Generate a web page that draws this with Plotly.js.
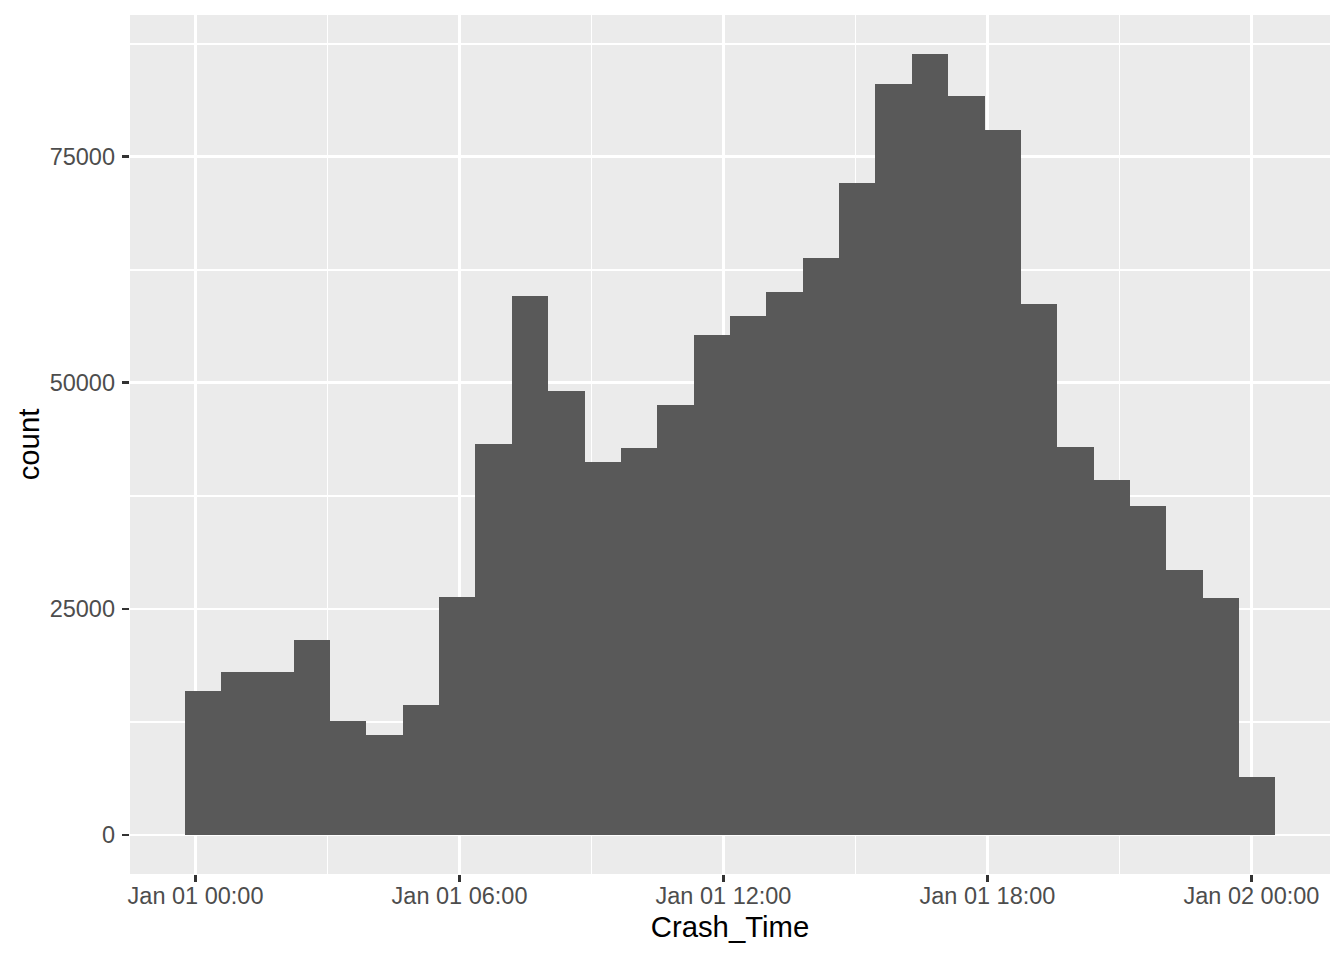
<!DOCTYPE html>
<html>
<head>
<meta charset="utf-8">
<script src="https://cdn.plot.ly/plotly-3.0.1.min.js"></script>
<style>html,body{margin:0;padding:0;background:#fff;}#chart{width:1344px;height:960px;}</style>
</head>
<body>
<div id="chart"></div>
<script>
// Histogram of Crash_Time: 30 bins (counts)
const counts = [15970, 17970, 17970, 21510, 12650, 11100, 14420, 26270, 43200, 59590,
                49070, 41210, 42760, 47520, 55270, 57370, 60030, 63790, 72090, 83050,
                86370, 81720, 77960, 58700, 42870, 39220, 36340, 29260, 26160, 6450];
const binStartHours = -0.25;      // left edge of first bin (hours after Jan 01 00:00)
const binWidthHours = 0.82652;    // bin width in hours
const xTickLabelFormat = '%b %d %H:%M';
const xTitle = 'Crash_Time';
const yTitle = 'count';

const HOUR = 3600000;
const centers = counts.map((c, i) => (binStartHours + (i + 0.5) * binWidthHours) * HOUR);
const xMin = binStartHours * HOUR;
const xMax = (binStartHours + counts.length * binWidthHours) * HOUR;
const xPad = 0.05 * (xMax - xMin);
const yMax = Math.max(...counts);

const trace = {
  type: 'bar',
  x: centers,
  y: counts,
  width: binWidthHours * HOUR,
  marker: {color: '#595959', line: {width: 0}},
  hoverinfo: 'x+y'
};

const font = 'Liberation Sans, Arial, sans-serif';
const layout = {
  width: 1344, height: 960,
  margin: {l: 130, r: 14, t: 15, b: 86, pad: 0},
  paper_bgcolor: '#ffffff',
  plot_bgcolor: '#EBEBEB',
  bargap: 0,
  showlegend: false,
  font: {family: font, color: '#000000'},
  xaxis: {
    type: 'date',
    range: [xMin - xPad, xMax + xPad],
    tick0: 0, dtick: 6 * HOUR,
    tickformat: xTickLabelFormat,
    showgrid: true, gridcolor: '#FFFFFF', gridwidth: 2.8,
    minor: {tick0: 0, dtick: 3 * HOUR, showgrid: true, gridcolor: '#FFFFFF', gridwidth: 1.4, ticks: ''},
    zeroline: false, showline: false,
    ticks: 'outside', ticklen: 7.3, tickwidth: 2.8, tickcolor: '#333333',
    ticklabelstandoff: -7,
    tickfont: {family: font, size: 23.5, color: '#4D4D4D'},
    title: {text: xTitle, font: {family: font, size: 29.3, color: '#000000'}, standoff: 8}
  },
  yaxis: {
    range: [-0.05 * yMax, 1.05 * yMax],
    tick0: 0, dtick: 25000,
    tickformat: 'd',
    showgrid: true, gridcolor: '#FFFFFF', gridwidth: 2.8,
    minor: {tick0: 0, dtick: 12500, showgrid: true, gridcolor: '#FFFFFF', gridwidth: 1.4, ticks: ''},
    zeroline: false, showline: false,
    ticks: 'outside', ticklen: 7.3, tickwidth: 2.8, tickcolor: '#333333',
    ticklabelstandoff: 2,
    tickfont: {family: font, size: 23.5, color: '#4D4D4D'},
    title: {text: yTitle, font: {family: font, size: 29.3, color: '#000000'}, standoff: 1}
  }
};

Plotly.newPlot('chart', [trace], layout, {displayModeBar: false, staticPlot: true});
</script>
</body>
</html>
